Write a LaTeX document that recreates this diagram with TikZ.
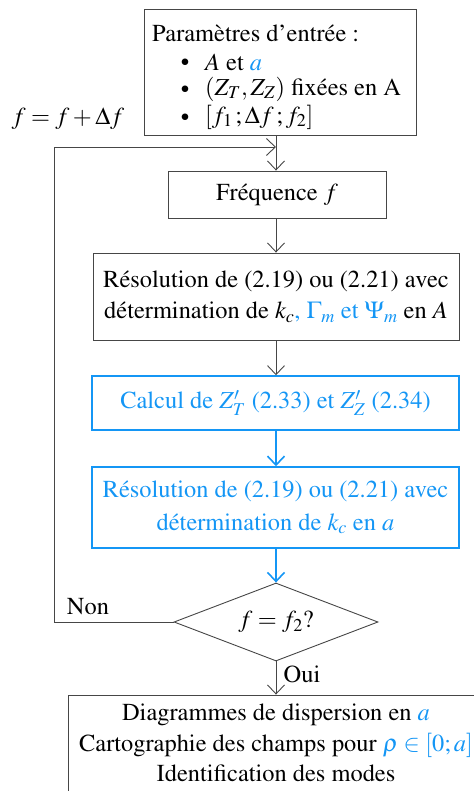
\documentclass[tikz,border=0pt]{standalone}
\usepackage[T1]{fontenc}
\usepackage{mathptmx}
\usetikzlibrary{arrows.meta,shapes.geometric}
\definecolor{blueC}{RGB}{20,150,245}
\definecolor{lineC}{RGB}{70,70,70}
\newcommand{\mybul}{{\fontsize{17}{17}\selectfont$\bullet$}}
\begin{document}
\begin{tikzpicture}[x=1bp,y=-1bp,
  box/.style={draw=lineC,line width=0.9bp,rectangle,inner sep=0pt,align=center,font=\rmfamily\fontsize{24.5}{31.5}\selectfont},
  bbox/.style={box,draw=blueC,line width=1.5bp,text=blueC},
  txt/.style={inner sep=0pt,font=\rmfamily\fontsize{24.5}{29}\selectfont},
  arr/.style={draw=lineC,line width=0.9bp,-{Straight Barb[length=9bp,width=17bp]}},
  barr/.style={arr,draw=blueC,line width=1.6bp}]
\useasboundingbox (0,0) rectangle (474,791);
\begin{scope}
\clip (0,0) rectangle (474,791);
% top box
\node[box,minimum width=272bp,minimum height=126bp] (in) at (280,72) {};
\node[txt,anchor=west] (t0) at (152,33) {Param\`etres d'entr\'ee :};
\node[txt,anchor=center] (b1) at (185,63) {\mybul};
\node[txt,anchor=west] (t1) at (205,62) {$A$ et {\color{blueC}$a$}};
\node[txt,anchor=center] (b2) at (185,90) {\mybul};
\node[txt,anchor=west] (t2) at (205,89) {$(Z_T,Z_Z)$ fix\'ees en A};
\node[txt,anchor=center] (b3) at (185,118) {\mybul};
\node[txt,anchor=west] (t3) at (205,117) {$[f_1\,;\Delta f\,;f_2]$};
\node[txt] (lab) at (68,119) {$f=f+\Delta f$};
% boxes
\node[box,minimum width=218bp,minimum height=47bp] (fr) at (277,194.5) {Fr\'equence $f$};
\node[box,minimum width=366bp,minimum height=87bp] (r1) at (276,296.5)
  {R\'esolution de (2.19) ou (2.21) avec\\d\'etermination de $k_c${\color{blueC}, $\Gamma_m$ et $\Psi_m$} en $A$};
\node[bbox,minimum width=367bp,minimum height=54bp] (cz) at (275.5,403)
  {Calcul de $Z'_T$ (2.33) et $Z'_Z$ (2.34)};
\node[bbox,minimum width=367bp,minimum height=81bp,font=\rmfamily\fontsize{24.5}{33}\selectfont] (r2) at (275.5,507.5)
  {R\'esolution de (2.19) ou (2.21) avec\\d\'etermination de $k_c$ en $a$};
\node[draw=lineC,line width=0.9bp,diamond,aspect=2.6,minimum width=204bp,minimum height=78bp,inner sep=0pt,
  font=\rmfamily\fontsize{24.5}{29}\selectfont] (dia) at (276,622) {$f=f_2$?};
\node[box,minimum width=416bp,minimum height=110bp] (out) at (276,750) {};
\node[txt] (o1) at (276,715) {Diagrammes de dispersion en {\color{blueC}$a$}};
\node[txt] (o2) at (276,745) {Cartographie des champs pour {\color{blueC}$\rho\in[0;a]$}};
\node[txt] (o3) at (276,773) {Identification des modes};
% connectors
\coordinate (m) at (276,147);
\coordinate (lp) at (54,622);
\draw[arr] (in.south -| m) -- (fr.north -| m);
\draw[arr] (fr.south -| m) -- (r1.north -| m);
\draw[arr] (r1.south -| m) -- (cz.north -| m);
\draw[barr] (cz.south -| m) -- (r2.north -| m);
\draw[barr] (r2.south -| m) -- (dia.north);
\draw[arr] (dia.south) -- (out.north -| dia.south);
\draw[arr] (dia.west) -- (lp) |- (m);
\node[txt] (non) at (88,607) {Non};
\node[txt] (oui) at (302,674) {Oui};
\end{scope}
\end{tikzpicture}
\end{document}
